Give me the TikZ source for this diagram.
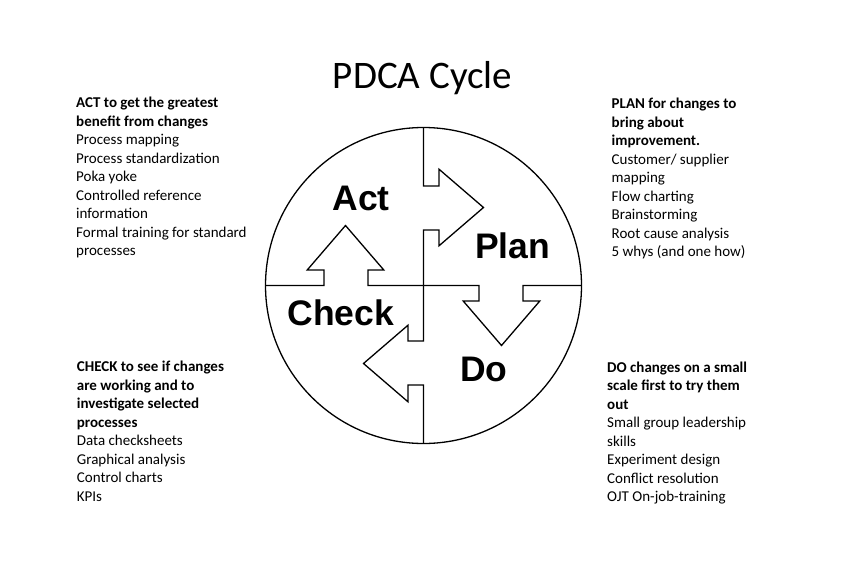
\documentclass[tikz,border=0pt]{standalone}
\usepackage{fontspec}
\setmainfont{Carlito}
\newfontfamily\labelfont{Liberation Sans}
\begin{document}
\begin{tikzpicture}[x=1pt,y=1pt,
  shapeline/.style={line width=1.3pt, line join=miter, draw=black},
  lbl/.style={font=\labelfont\bfseries\fontsize{35.5}{40}\selectfont, inner sep=0pt, anchor=base},
  blocktext/.style={inner sep=0pt, anchor=base west, font=\fontsize{15}{18.5}\selectfont}]
\useasboundingbox (0,0) rectangle (843,-562);
\fill[white] (0,0) rectangle (843,-562);
\coordinate (c) at (423.5,-285.5);
\draw[shapeline] (c) circle[radius=158pt];
\foreach \a in {0,-90,-180,-270}{
  \draw[shapeline, shift={(c)}, rotate=\a]
    (0,158) -- (0,99.5) -- (15.5,99.5) -- (15.5,116.3) -- (60,78)
    -- (15.5,39.7) -- (15.5,55.5) -- (0,55.5) -- (0,0);
}
\node[inner sep=0pt, anchor=base, font=\fontsize{39}{44}\selectfont] (title) at (422.5,-88.3) {PDCA Cycle};
\node[lbl] (act) at (361,-210) {Act};
\node[lbl] (plan) at (512.5,-258.3) {Plan};
\node[lbl] (check) at (340.8,-325) {Check};
\node[lbl] (do) at (484,-381.7) {Do};
\node[blocktext] (actbox) at (76,-107.8) {\parbox[t]{220pt}{\raggedright\fontsize{15}{18.5}\selectfont
  \textbf{ACT to get the greatest}\\
  \textbf{benefit from changes}\\
  Process mapping\\
  Process standardization\\
  Poka yoke\\
  Controlled reference\\
  information\\
  Formal training for standard\\
  processes}};
\node[blocktext] (planbox) at (611.5,-108.7) {\parbox[t]{220pt}{\raggedright\fontsize{15}{18.5}\selectfont
  \textbf{PLAN for changes to}\\
  \textbf{bring about}\\
  \textbf{improvement.}\\
  Customer/ supplier\\
  mapping\\
  Flow charting\\
  Brainstorming\\
  Root cause analysis\\
  5 whys (and one how)}};
\node[blocktext] (checkbox) at (76.7,-371.7) {\parbox[t]{220pt}{\raggedright\fontsize{15}{18.5}\selectfont
  \textbf{CHECK to see if changes}\\
  \textbf{are working and to}\\
  \textbf{investigate selected}\\
  \textbf{processes}\\
  Data checksheets\\
  Graphical analysis\\
  Control charts\\
  KPIs}};
\node[blocktext] (dobox) at (607,-372.3) {\parbox[t]{220pt}{\raggedright\fontsize{15}{18.5}\selectfont
  \textbf{DO changes on a small}\\
  \textbf{scale first to try them}\\
  \textbf{out}\\
  Small group leadership\\
  skills\\
  Experiment design\\
  Conflict resolution\\
  OJT On-job-training}};
\end{tikzpicture}
\end{document}
